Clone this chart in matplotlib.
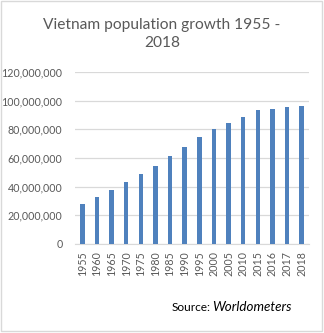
import matplotlib.pyplot as plt
import numpy as np
from matplotlib.patches import Rectangle
from matplotlib.ticker import FuncFormatter

plt.rcParams['font.family'] = ['Lato', 'DejaVu Sans']

# population by year (Worldometers)
years = ['1955', '1960', '1965', '1970', '1975', '1980', '1985', '1990',
         '1995', '2000', '2005', '2010', '2015', '2016', '2017', '2018']
population = [28147785, 32670048, 37858951, 43404793, 48718189, 54281846,
              61049370, 67988862, 74910461, 80285563, 84203817, 88357775,
              93571567, 94444200, 95540800, 96491146]
y_ticks = [0, 20000000, 40000000, 60000000, 80000000, 100000000, 120000000]

text_color = '#595959'
grid_color = '#D9D9D9'

fig = plt.figure(figsize=(3.24, 3.33), dpi=100)
ax = fig.add_axes([0.2315, 0.2673, 0.7222, 0.5165])

x = np.arange(len(years))
ax.bar(x, population, width=0.31, color='#4F81BD', zorder=3)

ax.set_xlim(-0.5, len(years) - 0.5)
ax.set_ylim(0, 120000000)
ax.set_yticks(y_ticks)
ax.yaxis.set_major_formatter(FuncFormatter(lambda v, p: f'{int(v):,}'))
ax.set_xticks(x)
ax.set_xticklabels(years, rotation=90)

ax.grid(axis='y', color=grid_color, linewidth=0.9, zorder=0)
for side in ['top', 'right', 'left']:
    ax.spines[side].set_visible(False)
ax.spines['bottom'].set_color(grid_color)
ax.tick_params(axis='both', length=0, labelsize=7.7, colors=text_color)
ax.tick_params(axis='y', pad=9)
ax.tick_params(axis='x', pad=5)

fig.text(0.5, 0.945, 'Vietnam population growth 1955 -\n2018', ha='center', va='top',
         fontsize=11.2, color=text_color, linespacing=1.35)

fig.text(0.531, 0.066, 'Source:', ha='left', va='baseline', fontsize=8.6, color='#000000')
fig.text(0.654, 0.066, 'Worldometers', ha='left', va='baseline', fontsize=9.6,
         color='#000000', style='italic')

# chart border
fig.patches.append(Rectangle((0.003, 0.006), 0.991, 0.99, transform=fig.transFigure,
                             fill=False, edgecolor=grid_color, linewidth=1))

fig.savefig('out.png', dpi=100, facecolor='white')
